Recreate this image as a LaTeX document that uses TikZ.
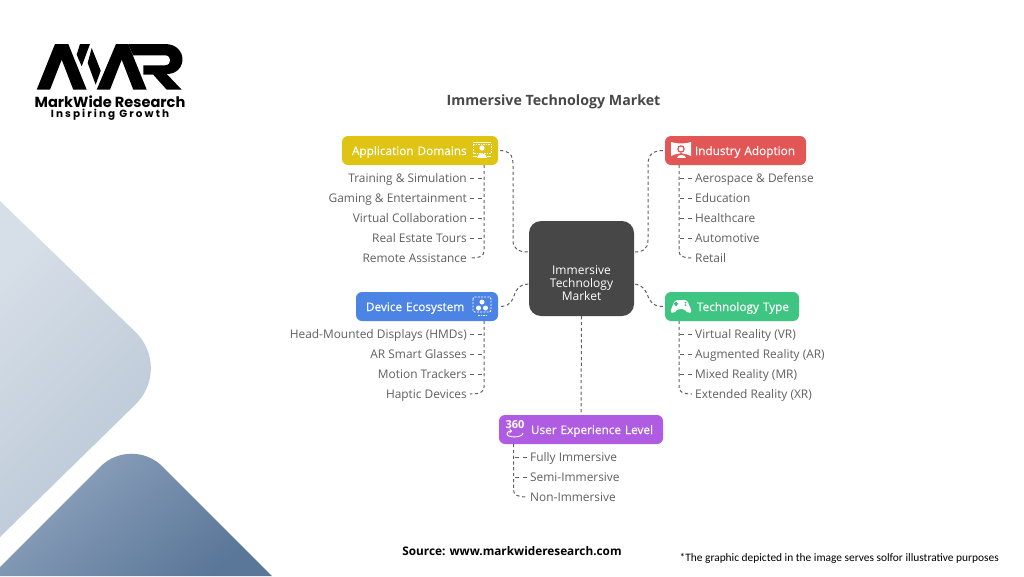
\documentclass[tikz,border=0pt]{standalone}
\usepackage{fontspec}
\setmainfont{Open Sans}
\newfontfamily\logofont{Poppins}
\newfontfamily\notefont{Carlito}
\usetikzlibrary{calc}
\definecolor{appcol}{HTML}{E0C414}
\definecolor{indcol}{HTML}{E25656}
\definecolor{devcol}{HTML}{4B84E4}
\definecolor{techcol}{HTML}{3DC581}
\definecolor{usercol}{HTML}{B05CE2}
\definecolor{hubcol}{HTML}{474747}
\definecolor{itemcol}{HTML}{5F5F5F}
\definecolor{paleA}{HTML}{D6DEE7}
\definecolor{paleB}{HTML}{B8C6D5}
\definecolor{deepA}{HTML}{92A6C0}
\definecolor{deepB}{HTML}{5A7698}
\tikzset{
  headbox/.style={fill=#1, rounded corners=6pt, text=white, minimum height=29pt, inner xsep=0pt, inner ysep=0pt, text height=11.5pt, text depth=2.5pt, font=\fontsize{11.8}{14}\selectfont\addfontfeature{FakeBold=0.25}},
  hubbox/.style={fill=hubcol, rounded corners=12pt, text=white, minimum width=105pt, minimum height=95pt, align=center, font=\fontsize{12}{13}\selectfont},
  itemtext/.style={text=itemcol, inner sep=3pt, text height=12.2pt, text depth=2.8pt, font=\fontsize{11.9}{14}\selectfont},
  dashline/.style={draw=itemcol, line width=1pt, dash pattern=on 3.2pt off 2.6pt},
  tickline/.style={draw=itemcol, line width=1pt, dash pattern=on 4pt off 4pt},
  iconline/.style={draw=white, line width=0.9pt}
}
\begin{document}
\begin{tikzpicture}[x=1pt,y=-1pt]
\useasboundingbox (0,0) rectangle (1024,576);
% background shapes
\shade[left color=paleA, right color=paleB, shading angle=45]
  (0,201) [rounded corners=52pt] -- (172.7,368) [sharp corners] -- (0,537) -- cycle;
\shade[left color=deepA, right color=deepB, shading angle=40]
  (0,576) -- (0,567) [rounded corners=44pt] -- (131.5,435.5) [sharp corners] -- (272,576) -- cycle;
% logo
\fill (36.7,89.7) -- (55,44) -- (68.3,44) -- (86.7,89.7) -- (73.3,89.7) -- (61.7,59.7) -- (50,89.7) -- cycle;
\fill (80,44) -- (90,44) -- (81.7,66.3) -- (76.7,54.7) -- cycle;
\fill (91.7,48) -- (100.7,70.7) -- (95.7,84.7) -- (87.7,63) -- cycle;
\fill (96.7,89.7) -- (116,44) -- (128.3,44) -- (146.7,89.7) -- (133.3,89.7) -- (121.7,59.7) -- (110,89.7) -- cycle;
\fill (128.3,44) -- (165,44) .. controls (188,44) and (188,74) .. (166.7,74) -- (181.7,89.7) -- (166.7,89.7) -- (153.3,74.7) -- (143.3,74.7) -- (143.3,65.3) -- (165,65.3) .. controls (172,65.3) and (172,55.3) .. (165,55.3) -- (133,55.3) -- cycle;
\node[font=\logofont\bfseries\fontsize{14.6}{16}\selectfont, inner sep=0pt] (logoname) at (110,101.5) {MarkWide Research};
\node[font=\logofont\bfseries\fontsize{10.4}{11}\selectfont\addfontfeature{LetterSpace=20}, inner sep=0pt] (logotag) at (110,114.5) {Inspiring Growth};
% title and notes
\node[text=hubcol, font=\bfseries\fontsize{14.2}{16}\selectfont] (title) at (553.5,101.5) {Immersive Technology Market};
\node[font=\bfseries\fontsize{11.8}{14}\selectfont, inner sep=0pt] (source) at (512,551) {Source: www.markwideresearch.com};
\node[font=\notefont\fontsize{11.4}{13}\selectfont, anchor=west, inner sep=0pt] (note) at (679.5,558) {*The graphic depicted in the image serves solfor illustrative purposes};
% hub and heads
\node[hubbox] (hub) at (581.5,268.5) {\mbox{}\\[25pt]Immersive\\Technology\\Market};
\node[headbox=appcol, text width=136pt, align=left, inner xsep=10pt] (appdom) at (420,150.5) {Application Domains};
\node[headbox=indcol, text width=119pt, align=right, inner xsep=11pt] (indadopt) at (735.5,150.5) {Industry Adoption};
\node[headbox=devcol, text width=122pt, align=left, inner xsep=10pt] (devsys) at (427,306.5) {Device Ecosystem};
\node[headbox=techcol, text width=114pt, align=right, inner xsep=10pt] (techtype) at (732,306.5) {Technology Type};
\node[headbox=usercol, text width=144pt, align=right, inner xsep=10pt] (userlevel) at (581,429.5) {User Experience Level};
% items
\foreach \name/\txt [count=\i] in {a/Training \& Simulation,b/Gaming \& Entertainment,c/Virtual Collaboration,d/Real Estate Tours,e/Remote Assistance}
  \node[itemtext, anchor=east] (app\name) at (470,158+20*\i) {\txt};
\foreach \name/\txt [count=\i] in {a/Aerospace \& Defense,b/Education,c/Healthcare,d/Automotive,e/Retail}
  \node[itemtext, anchor=west] (ind\name) at (692,158+20*\i) {\txt};
\foreach \name/\txt [count=\i] in {a/Head-Mounted Displays (HMDs),b/AR Smart Glasses,c/Motion Trackers,d/Haptic Devices}
  \node[itemtext, anchor=east] (dev\name) at (470,314+20*\i) {\txt};
\foreach \name/\txt [count=\i] in {a/Virtual Reality (VR),b/Augmented Reality (AR),c/Mixed Reality (MR),d/Extended Reality (XR)}
  \node[itemtext, anchor=west] (tech\name) at (692,314+20*\i) {\txt};
\foreach \name/\txt [count=\i] in {a/Fully Immersive,b/Semi-Immersive,c/Non-Immersive}
  \node[itemtext, anchor=west] (user\name) at (527,437+20*\i) {\txt};
% spines
\coordinate (apptop) at (484,165);
\coordinate (indtop) at (679,165);
\coordinate (devtop) at (484,321);
\coordinate (techtop) at (679,321);
\coordinate (usertop) at (513.5,444);
\draw[dashline] (apptop) -- (484,251) .. controls (484,256) and (480,258) .. (appe.east);
\foreach \name in {a,b,c,d} \draw[tickline] (app\name.east) -- (app\name.east -| apptop);
\draw[dashline] (indtop) -- (679,251) .. controls (679,256) and (683,258) .. (inde.west);
\foreach \name in {a,b,c,d} \draw[tickline] (ind\name.west) -- (ind\name.west -| indtop);
\draw[dashline] (devtop) -- (484,387) .. controls (484,392) and (480,394) .. (devd.east);
\foreach \name in {a,b,c} \draw[tickline] (dev\name.east) -- (dev\name.east -| devtop);
\draw[dashline] (techtop) -- (679,387) .. controls (679,392) and (683,394) .. (techd.west);
\foreach \name in {a,b,c} \draw[tickline] (tech\name.west) -- (tech\name.west -| techtop);
\draw[dashline] (usertop) -- (513.5,490) .. controls (513.5,495) and (518,497) .. (userc.west);
\foreach \name in {a,b} \draw[tickline] (user\name.west) -- (user\name.west -| usertop);
% hub links
\coordinate (hubleft) at (529,252);
\coordinate (hubright) at (634,252);
\coordinate (hubdev) at (529,284);
\coordinate (hubtech) at (634,284);
\draw[dashline] (appdom.east) ++(2,0) .. controls (508,151) and (513,153) .. (513,165) -- (513,240) .. controls (513,249) and (518,252) .. (hubleft);
\draw[dashline] (indadopt.west) ++(-2,0) .. controls (654,151) and (648,153) .. (648,165) -- (648,240) .. controls (648,249) and (643,252) .. (hubright);
\draw[dashline] (devsys.east) ++(3,0) .. controls (520,305) and (508,285) .. (hubdev);
\draw[dashline] (techtype.west) ++(-2,0) .. controls (642,306) and (653,286) .. (hubtech);
\draw[dashline] (hub.south) -- (userlevel.north);
% icons
\begin{scope}[shift={(482,150)}]
  \draw[iconline] (-9,-8) -- (9,-8);
  \draw[iconline, dash pattern=on 1.5pt off 1pt] (-9,-6) rectangle (9,3);
  \fill[white] (0,-2) circle (2.6);
  \fill[white] (-5,8) .. controls (-5,2) and (5,2) .. (5,8) -- cycle;
  \draw[iconline] (-9,6) -- (-5,6) (5,6) -- (9,6);
\end{scope}
\begin{scope}[shift={(681,150)}]
  \fill[white] (-10,-8) .. controls (-4,-6) and (4,-6) .. (10,-8) -- (10,6) -- (5,4) -- (-5,4) -- (-10,6) -- cycle;
  \fill[indcol] (0,-1) circle (3.8);
  \fill[white] (0,-1) circle (2.3);
  \fill[indcol] (-6,8.5) .. controls (-6,1) and (6,1) .. (6,8.5) -- cycle;
  \fill[white] (-4.5,7.5) .. controls (-4.5,3.5) and (4.5,3.5) .. (4.5,7.5) -- cycle;
\end{scope}
\begin{scope}[shift={(482,306)}]
  \draw[iconline, dash pattern=on 2pt off 1.2pt, rounded corners=2pt] (-9,-9) rectangle (9,6);
  \fill[white] (0,-4) circle (2.5) (-3.5,2) circle (2.5) (3.5,2) circle (2.5);
  \draw[iconline, dash pattern=on 1.5pt off 1pt] (-4,9) -- (4,9);
\end{scope}
\begin{scope}[shift={(681,306)}]
  \fill[white, rounded corners=2pt] (-6,-6) -- (6,-6) -- (11,6) -- (7,7.5) -- (3.5,3) -- (-3.5,3) -- (-7,7.5) -- (-11,6) -- cycle;
  \fill[techcol] (-7,-2.9) rectangle (-3,-1.3) (-5.8,-4.1) rectangle (-4.2,-0.1) (4.5,-3.4) circle (1) (4.5,-0.8) circle (1);
\end{scope}
\begin{scope}[shift={(515,429)}]
  \node[text=white, inner sep=0pt, font=\bfseries\fontsize{11}{12}\selectfont] (icon360) at (0,-4) {360};
  \draw[iconline, ->] (8,4) .. controls (8,9) and (-8,9) .. (-8,5) .. controls (-8,2) and (-4,2) .. (-3,2);
\end{scope}
\end{tikzpicture}
\end{document}
